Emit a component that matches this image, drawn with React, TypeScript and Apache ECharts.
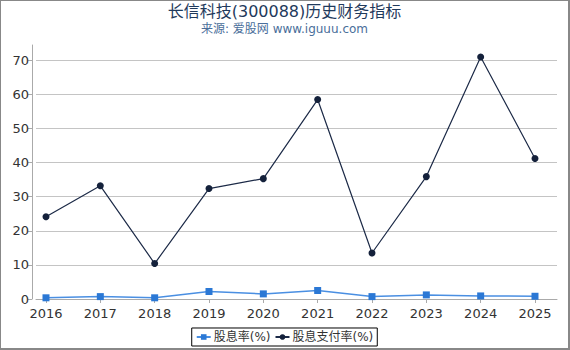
import React, { useEffect, useRef } from "react";
import * as echarts from "echarts";

const years = [2016, 2017, 2018, 2019, 2020, 2021, 2022, 2023, 2024, 2025];
const dividendYield = [0.35, 0.7, 0.35, 2.2, 1.5, 2.5, 0.7, 1.2, 0.9, 0.8];
const payoutRatio = [24.1, 33.2, 10.4, 32.4, 35.3, 58.5, 13.5, 35.9, 71.0, 41.2];
const yTicks = [0, 10, 20, 30, 40, 50, 60, 70];

const FONT = "'DejaVu Sans', 'Noto Sans CJK SC', sans-serif";

export default function App() {
  const ref = useRef<HTMLDivElement>(null);
  useEffect(() => {
    if (!ref.current) return;
    const chart = echarts.init(ref.current, undefined, { renderer: "svg" });
    chart.setOption({
      animation: false,
      backgroundColor: "#fff",
      textStyle: { fontFamily: FONT },
      title: {
        text: "长信科技(300088)历史财务指标",
        subtext: "来源: 爱股网 www.iguuu.com",
        left: "center",
        top: -3,
        itemGap: 4,
        textStyle: { fontFamily: FONT, fontSize: 16, fontWeight: "normal", color: "#1f3a5c" },
        subtextStyle: { fontFamily: FONT, fontSize: 12, color: "#4a6e9a" },
      },
      legend: {
        bottom: 2,
        left: "center",
        borderColor: "#000",
        borderWidth: 1,
        borderRadius: 0,
        padding: [3, 4],
        itemGap: 4,
        itemWidth: 14,
        itemHeight: 7,
        textStyle: { fontFamily: FONT, fontSize: 12, color: "#333", padding: [0, 0, 0, -2] },
        data: ["股息率(%)", "股息支付率(%)"],
      },
      grid: { left: 35, right: 11, top: 44, bottom: 49, containLabel: false },
      xAxis: {
        type: "value",
        min: 2015.816,
        max: 2025.405,
        offset: 5,
        axisLine: { show: true, lineStyle: { color: "#aaa" } },
        axisTick: { show: true, length: 4, lineStyle: { color: "#aaa" }, customValues: years },
        axisLabel: {
          customValues: years,
          fontFamily: FONT,
          fontSize: 13,
          color: "#333",
          margin: 3,
          formatter: (v: number) => String(v),
        },
        splitLine: { show: false },
      },
      yAxis: {
        type: "value",
        min: 0,
        max: 74.5,
        offset: 4,
        axisLine: { show: true, lineStyle: { color: "#aaa" } },
        axisTick: { show: true, length: 4, lineStyle: { color: "#aaa" }, customValues: yTicks },
        axisLabel: { customValues: yTicks, fontFamily: FONT, fontSize: 13, color: "#333", margin: 3 },
        splitLine: { show: true, lineStyle: { color: "#c4c4c4", width: 1 } },
      },
      series: [
        {
          name: "股息率(%)",
          type: "line",
          data: years.map((y, i) => [y, dividendYield[i]]),
          symbol: "rect",
          symbolSize: 7,
          itemStyle: { color: "#2b78d5" },
          lineStyle: { color: "#4a8fe2", width: 1.5 },
        },
        {
          name: "股息支付率(%)",
          type: "line",
          data: years.map((y, i) => [y, payoutRatio[i]]),
          symbol: "circle",
          symbolSize: 7,
          itemStyle: { color: "#14213b" },
          lineStyle: { color: "#1c2a47", width: 1.2 },
        },
      ],
    });
    return () => chart.dispose();
  }, []);
  return (
    <div
      style={{
        position: "fixed",
        left: 0,
        top: 0,
        width: 570,
        height: 350,
        boxSizing: "border-box",
        borderTop: "1px solid #888",
        borderLeft: "1px solid #888",
        borderRight: "2px solid #888",
        borderBottom: "2px solid #888",
        background: "#fff",
      }}
    >
      <div ref={ref} style={{ width: 567, height: 347 }} />
    </div>
  );
}
